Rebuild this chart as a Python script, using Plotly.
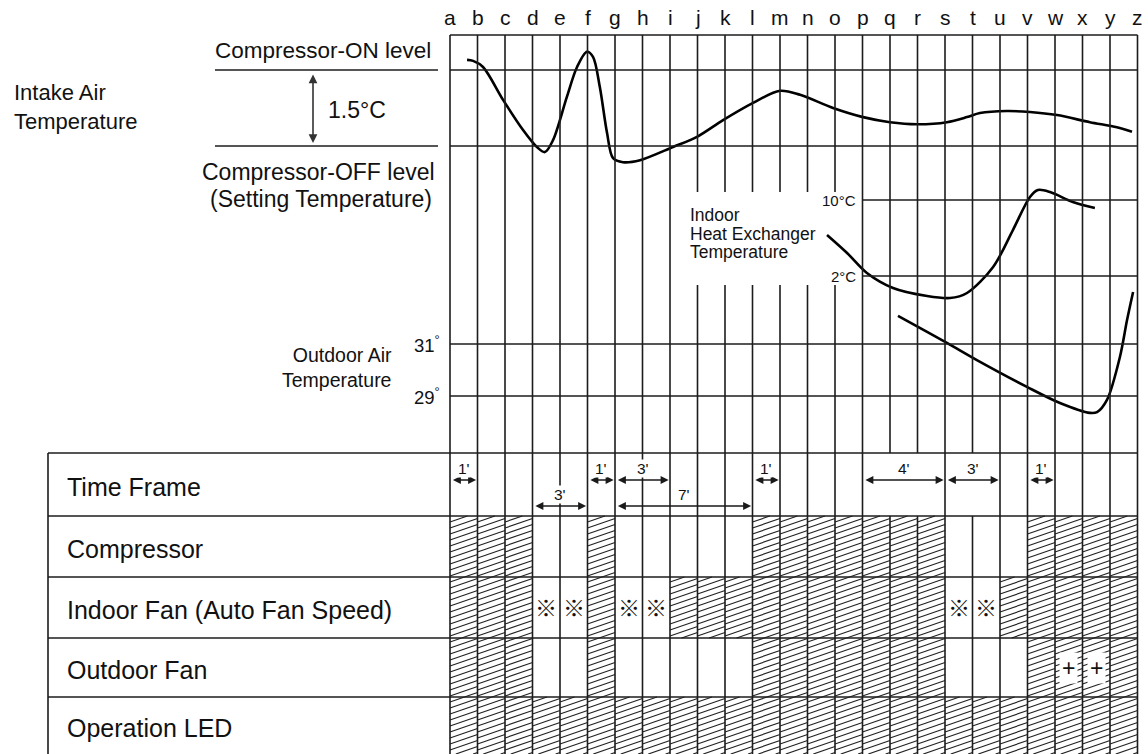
import plotly.graph_objects as go

# ---------------- data ----------------
LETTERS = list("abcdefghijklmnopqrstuvwxyz")
ROW_LABELS = ["Time Frame", "Compressor", "Indoor Fan (Auto Fan Speed)", "Outdoor Fan", "Operation LED"]

# Intake air temperature (°C above setting temperature); x in grid steps (a=0 ... z=25)
INTAKE_X = [0.62, 0.84, 1.20, 1.93, 2.65, 3.16, 3.45, 3.75, 4.25, 4.62, 4.98, 5.20, 5.45, 5.71,
            5.93, 6.29, 6.91, 8.11, 8.98, 9.93, 11.02, 12.0, 12.73, 13.93, 15.02, 16.0, 16.98,
            18.07, 18.8, 19.27, 20.25, 21.09, 22.07, 23.27, 24.25, 24.8]
INTAKE_T = [1.70, 1.68, 1.56, 0.91, 0.32, -0.02, -0.12, 0.12, 0.97, 1.56, 1.86, 1.76, 1.16, 0.26,
            -0.24, -0.32, -0.28, -0.02, 0.18, 0.51, 0.85, 1.09, 1.01, 0.75, 0.57, 0.47, 0.43,
            0.47, 0.57, 0.65, 0.69, 0.67, 0.61, 0.47, 0.37, 0.28]
ON_LEVEL = 1.5
OFF_LEVEL = 0.0

# Indoor heat exchanger temperature (°C)
HX_X = [13.71, 14.44, 15.16, 16.11, 17.35, 18.18, 18.8, 19.75, 20.47, 21.09, 21.38, 21.82, 22.65, 23.45]
HX_T = [6.32, 4.42, 2.32, 0.74, -0.11, -0.32, 0.21, 2.95, 6.84, 10.32, 11.05, 10.84, 9.79, 9.16]
HX_LEVELS = [10, 2]

# Outdoor air temperature (°C)
OUT_X = [16.29, 18.07, 19.16, 20.98, 22.18, 23.27, 23.53, 23.89, 24.36, 24.62, 24.84]
OUT_T = [32.08, 31.04, 30.38, 29.35, 28.73, 28.35, 28.38, 28.85, 30.5, 31.92, 33.0]
OUT_LEVELS = [31, 29]

# Cell states per interval (a-b ... y-z): H = on (hatched), . = off, X = ※ , P = hatched with +
COMPRESSOR    = "HHH..H.....HHHHHHH...HHHH"
INDOOR_FAN    = "HHHXXHXXHHHHHHHHHHXXHHHHH"
OUTDOOR_FAN   = "HHH..H.....HHHHHHH...HPPH"
OPERATION_LED = "HHHHHHHHHHHHHHHHHHHHHHHHH"

# Time frames: (from, to, label, tier)
TIME_FRAMES = [("a", "b", "1'", 0), ("d", "f", "3'", 1), ("f", "g", "1'", 0),
               ("g", "i", "3'", 0), ("g", "l", "7'", 1), ("l", "m", "1'", 0),
               ("p", "s", "4'", 0), ("s", "u", "3'", 0), ("v", "w", "1'", 0)]

# ---------------- layout constants (pixels) ----------------
W, H = 1148, 754
GX0, CELL = 450.0, 27.5
TOP = 35
ON_PIX, OFF_PIX = 70, 146
HX_PIX = (200, 276)
OUT_PIX = (344, 396)
ROW_EDGES = [453, 516, 577, 638, 697, 754]
TABLE_LEFT = 48
FONT = "Liberation Sans, Arial, sans-serif"
LINE = "#1c1c1c"
TXT = "#111111"


def ux(p):
    return (p - GX0) / CELL


def li(letter):
    return LETTERS.index(letter)


fig = go.Figure()

# axis scales
s_in = (OFF_PIX - ON_PIX) / (ON_LEVEL - OFF_LEVEL)
r_in = [OFF_LEVEL + (OFF_PIX - H) / s_in, OFF_LEVEL + OFF_PIX / s_in]
s_hx = (HX_PIX[1] - HX_PIX[0]) / (HX_LEVELS[0] - HX_LEVELS[1])
r_hx = [HX_LEVELS[1] + (HX_PIX[1] - H) / s_hx, HX_LEVELS[1] + HX_PIX[1] / s_hx]
s_out = (OUT_PIX[1] - OUT_PIX[0]) / (OUT_LEVELS[0] - OUT_LEVELS[1])
r_out = [OUT_LEVELS[1] + (OUT_PIX[1] - H) / s_out, OUT_LEVELS[1] + OUT_PIX[1] / s_out]

# ---------------- hatched cells ----------------
rows_state = [COMPRESSOR, INDOOR_FAN, OUTDOOR_FAN, OPERATION_LED]
hx, hy = [], []
RISE, STEP = 9.5, 6.0
for r, states in enumerate(rows_state):
    top, bot = ROW_EDGES[r + 1], ROW_EDGES[r + 2]
    for c, st in enumerate(states):
        if st not in "HP":
            continue
        X0 = GX0 + CELL * c
        X1 = X0 + CELL
        k0 = int(top // STEP)
        k1 = int((bot + RISE) // STEP) + 1
        for k in range(k0, k1 + 1):
            cy = k * STEP
            if cy <= bot:
                lx, ly = X0, cy
            else:
                lx, ly = X0 + (cy - bot) / RISE * CELL, bot
            ry = cy - RISE
            if ry >= top:
                rx, ryy = X1, ry
            else:
                rx, ryy = X0 + (cy - top) / RISE * CELL, top
            if rx <= lx or lx >= X1:
                continue
            hx += [ux(lx), ux(rx), None]
            hy += [ly, ryy, None]

fig.add_trace(go.Scatter(x=hx, y=hy, mode="lines", line=dict(color="#222222", width=1.2),
                         hoverinfo="skip", showlegend=False, yaxis="y"))

# ---------------- curves ----------------
fig.add_trace(go.Scatter(x=INTAKE_X, y=INTAKE_T, mode="lines", yaxis="y2",
                         line=dict(color="black", width=2.6, shape="spline", smoothing=0.9),
                         showlegend=False, name="Intake Air Temperature"))
fig.add_trace(go.Scatter(x=HX_X, y=HX_T, mode="lines", yaxis="y3",
                         line=dict(color="black", width=2.6, shape="spline", smoothing=0.9),
                         showlegend=False, name="Indoor Heat Exchanger Temperature"))
fig.add_trace(go.Scatter(x=OUT_X, y=OUT_T, mode="lines", yaxis="y4",
                         line=dict(color="black", width=2.6, shape="spline", smoothing=0.9),
                         showlegend=False, name="Outdoor Air Temperature"))

# ---------------- grid shapes ----------------
shapes = []


def seg(x0, x1, y0, y1, yref="y", w=1.6):
    shapes.append(dict(type="line", xref="x", yref=yref, x0=x0, x1=x1, y0=y0, y1=y1,
                       line=dict(color=LINE, width=w), layer="above"))


N = len(LETTERS)
seg(0, N - 1, TOP, TOP)
for i in range(N):
    if li("j") <= i <= li("o"):
        seg(i, i, TOP, 192)
        seg(i, i, 285, H)
    elif LETTERS[i] in "qrt":
        seg(i, i, TOP, ROW_EDGES[0])
        seg(i, i, ROW_EDGES[1], H)
    else:
        seg(i, i, TOP, H)

for lvl in (ON_LEVEL, OFF_LEVEL):
    seg(ux(215), ux(438), lvl, lvl, "y2")
    seg(0, N - 1, lvl, lvl, "y2")
for lvl in HX_LEVELS:
    seg(li("p"), N - 1, lvl, lvl, "y3")
for lvl in OUT_LEVELS:
    seg(0, N - 1, lvl, lvl, "y4")
for e in ROW_EDGES[:-1]:
    seg(ux(TABLE_LEFT), N - 1, e, e)
seg(ux(TABLE_LEFT), ux(TABLE_LEFT), ROW_EDGES[0], H)

# ---------------- annotations ----------------
ann = []


def text(x, y, t, size, xanchor="center", yref="y", family=FONT, **kw):
    d = dict(x=x, y=y, xref="x", yref=yref, text=t, showarrow=False, xanchor=xanchor,
             yanchor="middle", font=dict(family=family, size=size, color=TXT))
    d.update(kw)
    ann.append(d)


def harrow(x0, x1, y, yref="y"):
    ann.append(dict(x=x1, y=y, ax=x0, ay=y, xref="x", yref=yref, axref="x", ayref=yref,
                    text="", showarrow=True, arrowhead=2, arrowside="end+start",
                    arrowsize=1.0, arrowwidth=1.6, arrowcolor="#1a1a1a"))


for i, L in enumerate(LETTERS):
    text(i, 17, L, 21)

text(ux(433), 50, "Compressor-ON level", 22.5, "right")
text(ux(12), 107, "Intake Air<br>Temperature", 22, "left", align="left")
text(ux(326), 110, "1.5°C", 23, "left")
text(ux(437), 172, "Compressor-OFF level", 23, "right")
text(ux(434), 199, "(Setting Temperature)", 23, "right")
text(ux(394), 367, "Outdoor Air<br>Temperature", 19.5, "right", align="right")
for lvl in OUT_LEVELS:
    text(ux(442), lvl, f"{lvl}<sup>°</sup>", 18.5, "right", yref="y4")
for j, t in enumerate(["Indoor", "Heat Exchanger", "Temperature"]):
    text(ux(688), 215 + 18.5 * j, t, 17.5, "left")
for lvl in HX_LEVELS:
    text(ux(858), lvl, f"{lvl}°C", 15, "right", yref="y3")

# 1.5 °C double arrow
ann.append(dict(x=ux(313), y=OFF_LEVEL, ax=ux(313), ay=ON_LEVEL, xref="x", yref="y2",
                axref="x", ayref="y2", text="", showarrow=True, arrowhead=2,
                arrowside="end+start", arrowsize=1.1, arrowwidth=1.6, arrowcolor="#333",
                standoff=3, startstandoff=3))

# table row labels
for r, lab in enumerate(ROW_LABELS):
    cy = (ROW_EDGES[r] + ROW_EDGES[r + 1]) / 2
    text(ux(65), cy + 2, lab, 25, "left")

# time frames
for a, b, lab, tier in TIME_FRAMES:
    y = 480 if tier == 0 else 506
    x0, x1 = li(a) + 0.05, li(b) - 0.05
    harrow(x0, x1, y)
    text((x0 + x1) / 2, y - 12, lab, 15.5, bgcolor="white", borderpad=0)

# symbols
for c, st in enumerate(INDOOR_FAN):
    if st == "X":
        text(c + 0.5, 606, "※", 22, family="Noto Sans CJK JP")
for c, st in enumerate(OUTDOOR_FAN):
    if st == "P":
        text(c + 0.5, 668, "+", 23, bgcolor="white", borderpad=2)

fig.update_layout(
    width=W, height=H, margin=dict(l=0, r=0, t=0, b=0),
    paper_bgcolor="white", plot_bgcolor="white", showlegend=False,
    xaxis=dict(range=[ux(0), ux(W)], visible=False, fixedrange=True),
    yaxis=dict(range=[H, 0], visible=False, fixedrange=True),
    yaxis2=dict(range=r_in, visible=False, overlaying="y", fixedrange=True),
    yaxis3=dict(range=r_hx, visible=False, overlaying="y", fixedrange=True),
    yaxis4=dict(range=r_out, visible=False, overlaying="y", fixedrange=True),
    shapes=shapes, annotations=ann,
)

fig.write_html("out.html", config={"displayModeBar": False},
               post_script="document.body.style.margin='0';document.body.style.overflow='hidden';")
